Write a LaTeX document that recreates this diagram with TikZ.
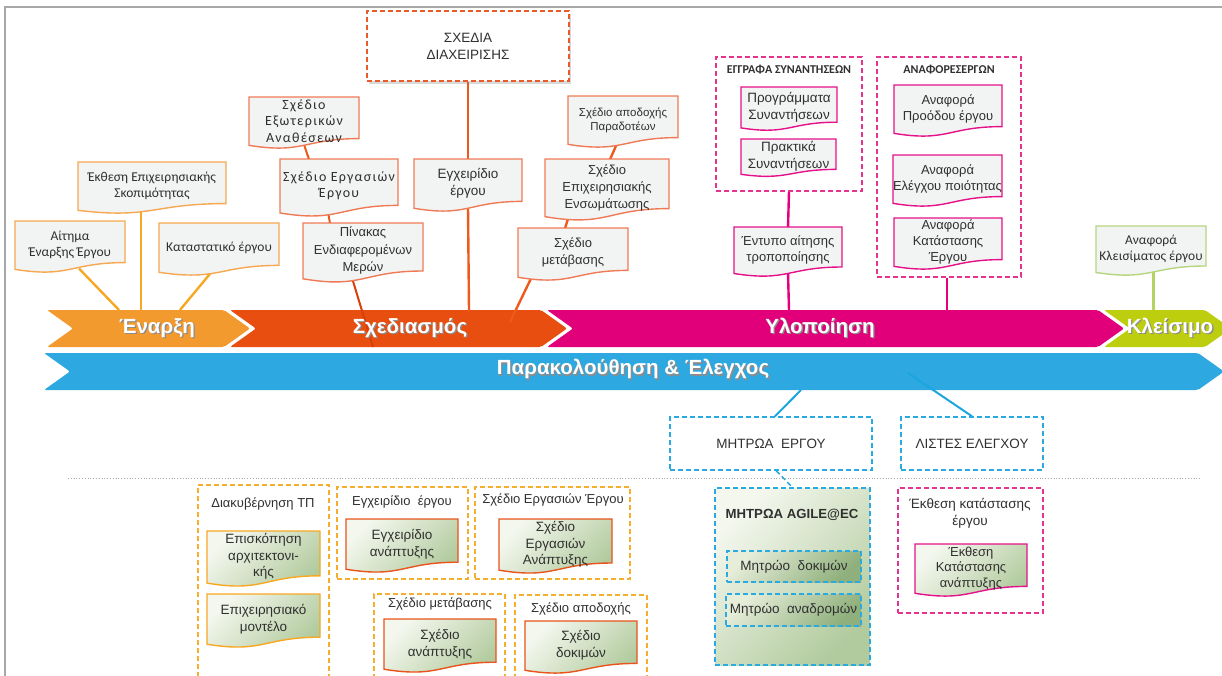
\documentclass[tikz,border=0pt]{standalone}
\usepackage{fontspec}
\setmainfont{Liberation Sans}
\newfontfamily\calfont{Carlito}
\newfontfamily\spfont[LetterSpace=9]{Carlito}
\usetikzlibrary{calc,shadows}
\pgfdeclarelayer{bands}
\pgfdeclarelayer{links}
\pgfsetlayers{bands,links,main}

\definecolor{cStart}{HTML}{F39A2E}
\definecolor{cPlan}{HTML}{E84E0F}
\definecolor{cExec}{HTML}{E2007A}
\definecolor{cClose}{HTML}{BDCE0E}
\definecolor{cMon}{HTML}{2EA8E0}
\definecolor{lnStart}{HTML}{F7A823}
\definecolor{lnPlan}{HTML}{EC5A1C}
\definecolor{lnPlanDk}{HTML}{D8400A}
\definecolor{lnExec}{HTML}{E5007D}
\definecolor{lnClose}{HTML}{B3D465}
\definecolor{lnMon}{HTML}{1BA6DF}
\definecolor{bdStart}{HTML}{F6A850}
\definecolor{bdPlan}{HTML}{EF7B56}
\definecolor{bdExec}{HTML}{E5118A}
\definecolor{bdClose}{HTML}{B5D67C}
\definecolor{bdDev}{HTML}{E8541B}
\definecolor{bdGov}{HTML}{F7A823}
\definecolor{docgray}{HTML}{F2F3F3}
\definecolor{gLight}{HTML}{F4F7EE}
\definecolor{gDark}{HTML}{B2CB9E}
\definecolor{gInL}{HTML}{E6EDD9}
\definecolor{gInD}{HTML}{8FB07C}
\definecolor{dashOr}{HTML}{F5AE2E}
\definecolor{dashPlan}{HTML}{E95B2B}
\definecolor{dashExec}{HTML}{E6338F}
\definecolor{dashMon}{HTML}{29ABE2}
\definecolor{framegray}{HTML}{A8A8A8}
\definecolor{ink}{HTML}{303030}

% phase label with a soft drop shadow
\newcommand\shtext[1]{\leavevmode\rlap{\kern1.3pt\raisebox{-1.6pt}{\color{black!45}#1}}#1}

% document symbol: name, x1, y1, x2, y2, outline style, text style, text
\newcommand\docnode[8]{%
  \path[docpath,#6] (#2,#3) -- (#4,#3) -- (#4,{#3+0.80*(#5-#3)})
    .. controls ({(#2+#4)/2},{#3+0.80*(#5-#3)}) and ({(#2+#4)/2},{#3+1.10*(#5-#3)})
    .. (#2,{#3+0.93*(#5-#3)}) -- cycle;
  \node[doctext,#7,minimum width={#4-#2},minimum height={0.9*(#5-#3)}]
    (#1) at ({(#2+#4)/2},{#3+0.46*(#5-#3)}) {#8};}

% rectangular node given by its corners: name, x1, y1, x2, y2, style, text
\newcommand\boxnode[7]{%
  \node[#6,minimum width={#4-#2},minimum height={#5-#3}]
    (#1) at ({(#2+#4)/2},{(#3+#5)/2}) {#7};}

\begin{document}
\begin{tikzpicture}[x=1pt,y=-1pt,
  docpath/.style={line width=1.4pt},
  doctext/.style={inner sep=0pt,align=center,text=ink,font=\fontsize{13}{17}\selectfont},
  calib/.style={font=\calfont\fontsize{13.5}{16.5}\selectfont},
  spaced/.style={font=\spfont\fontsize{14}{16.5}\selectfont},
  small/.style={font=\fontsize{11.5}{14}\selectfont},
  topdoc/.style={fill=docgray},
  devdoc/.style={top color=gLight,bottom color=gDark,shading angle=45},
  cont/.style={draw,dash pattern=on 5pt off 3pt,line width=1.4pt,inner sep=0pt},
  title/.style={inner sep=0pt,align=center,text=ink,font=\fontsize{13}{16}\selectfont},
  capsbold/.style={inner sep=0pt,text=ink,font=\calfont\bfseries\fontsize{12}{14}\selectfont},
  link/.style={line width=2.4pt},
  phase/.style={inner sep=0pt,text=white,font=\bfseries\fontsize{20.5}{23}\selectfont},
  band/.style={rounded corners=2pt}]

\useasboundingbox (0,0) rectangle (1222,675);
\clip (0,0) rectangle (1222,675);

% page frame
\draw[framegray,line width=1.6pt] (5,680) -- (5,7) -- (1230,7);

% ---------- phase bands ----------
\begin{pgfonlayer}{bands}
\fill[band,cStart] (47,310) -- (224,310) -- (250,328.5) -- (224,347) -- (47,347) -- (73,328.5) -- cycle;
\fill[band,cPlan]  (230,310) -- (541,310) -- (567,328.5) -- (541,347) -- (230,347) -- (256,328.5) -- cycle;
\fill[band,cExec]  (547,310) -- (1098,310) -- (1124,328.5) -- (1098,347) -- (547,347) -- (573,328.5) -- cycle;
\fill[band,cClose] (1104,310) -- (1205,310) -- (1231,328.5) -- (1205,347) -- (1104,347) -- (1130,328.5) -- cycle;
\fill[band,cMon]   (44,353) -- (1198,353) -- (1224,371.5) -- (1198,390) -- (44,390) -- (70,371.5) -- cycle;
\end{pgfonlayer}

\node[phase] (phStart) at (157,328.5) {\shtext{Έναρξη}};
\node[phase] (phPlan)  at (410,328.5) {\shtext{Σχεδιασμός}};
\node[phase] (phExec)  at (820,328.5) {\shtext{Υλοποίηση}};
\node[phase] (phClose) at (1170,328.5) {\shtext{Κλείσιμο}};
\node[phase] (phMon)   at (633,370) {\shtext{Παρακολούθηση \& Έλεγχος}};

% ---------- initiation documents ----------
\docnode{aitima}{15}{221}{125}{273}{draw=bdStart,topdoc}{calib}{Αίτημα\\Έναρξης Έργου}
\docnode{ekthesi}{78}{162}{226}{214}{draw=bdStart,topdoc}{calib}{Έκθεση Επιχειρησιακής\\Σκοπιμότητας}
\docnode{katast}{159}{223}{279}{276}{draw=bdStart,topdoc}{calib}{Καταστατικό έργου}

% ---------- planning documents ----------
\boxnode{diax}{367}{11}{569}{81}{cont,draw=dashPlan,fill=white,drop shadow={opacity=0.3,shadow xshift=1.5pt,shadow yshift=-2.5pt},title,font=\fontsize{13.5}{17}\selectfont}{ΣΧΕΔΙΑ\\ΔΙΑΧΕΙΡΙΣΗΣ}
\docnode{exter}{249}{97}{359}{149}{draw=bdPlan,topdoc}{spaced}{Σχέδιο\\Εξωτερικών\\Αναθέσεων}
\docnode{ergas}{280}{159}{398}{217}{draw=bdPlan,topdoc}{spaced}{Σχέδιο Εργασιών\\Έργου}
\docnode{pinakas}{303}{223}{423}{283}{draw=bdPlan,topdoc}{font=\fontsize{13}{17.5}\selectfont}{Πίνακας\\Ενδιαφερομένων\\Μερών}
\docnode{egx}{414}{159}{522}{212}{draw=bdPlan,topdoc}{font=\fontsize{13.5}{17}\selectfont}{Εγχειρίδιο\\έργου}
\docnode{apod}{568}{96}{678}{148}{draw=bdPlan,topdoc}{small}{Σχέδιο αποδοχής\\Παραδοτέων}
\docnode{ensom}{545}{159}{669}{221}{draw=bdPlan,topdoc}{font=\fontsize{13}{17}\selectfont}{Σχέδιο\\Επιχειρησιακής\\Ενσωμάτωσης}
\docnode{metab}{518}{228}{628}{281}{draw=bdPlan,topdoc}{font=\fontsize{13}{17}\selectfont}{Σχέδιο\\μετάβασης}

% ---------- execution documents ----------
\boxnode{meet}{716}{57}{862}{191}{cont,draw=dashExec}{}
\node[capsbold] (meetT) at (789,70) {ΕΓΓΡΑΦΑ ΣΥΝΑΝΤΗΣΕΩΝ};
\docnode{progr}{741}{87}{837}{131}{draw=bdExec,topdoc}{font=\fontsize{13.5}{16.5}\selectfont}{Προγράμματα\\Συναντήσεων}
\docnode{prakt}{741}{139}{836}{177}{draw=bdExec,topdoc}{font=\fontsize{13.5}{16.5}\selectfont}{Πρακτικά\\Συναντήσεων}
\docnode{entypo}{734}{227}{842}{277}{draw=bdExec,topdoc}{font=\fontsize{13}{16.5}\selectfont}{Έντυπο αίτησης\\τροποποίησης}

\boxnode{reports}{877}{57}{1021}{277}{cont,draw=dashExec}{}
\node[capsbold] (reportsT) at (949,70) {ΑΝΑΦΟΡΕΣΕΡΓΩΝ};
\docnode{prood}{894}{85}{1002}{137}{draw=bdExec,topdoc}{font=\fontsize{13}{16.5}\selectfont}{Αναφορά\\Προόδου έργου}
\docnode{poiot}{893}{155}{1002}{207}{draw=bdExec,topdoc}{font=\fontsize{13}{16.5}\selectfont}{Αναφορά\\Ελέγχου ποιότητας}
\docnode{katastasi}{894}{218}{1002}{270}{draw=bdExec,topdoc}{font=\fontsize{13}{16}\selectfont}{Αναφορά\\Κατάστασης\\Έργου}

% ---------- closing document ----------
\docnode{kleis}{1096}{226}{1206}{276}{draw=bdClose,topdoc}{calib}{Αναφορά\\Κλεισίματος έργου}

% ---------- monitoring boxes ----------
\boxnode{mitroa}{670}{417}{872}{470}{cont,draw=dashMon,title,font=\fontsize{13.5}{16}\selectfont}{ΜΗΤΡΩΑ\ \ ΕΡΓΟΥ}
\boxnode{listes}{901}{417}{1043}{470}{cont,draw=dashMon,title,font=\fontsize{13.5}{16}\selectfont}{ΛΙΣΤΕΣ ΕΛΕΓΧΟΥ}

% divider
\draw[framegray,line width=0.8pt,dotted] (68,478) -- (1202,478);

% ---------- development documents ----------
\boxnode{gov}{198}{485}{329}{700}{cont,draw=dashOr}{}
\node[title] (govT) at (263,504) {Διακυβέρνηση ΤΠ};
\docnode{episk}{207}{531}{320}{587}{draw=bdGov,devdoc}{font=\fontsize{13.5}{16.5}\selectfont}{Επισκόπηση\\αρχιτεκτονι-\\κής}
\docnode{epix}{207}{594}{320}{648}{draw=bdGov,devdoc}{font=\fontsize{13.5}{17}\selectfont}{Επιχειρησιακό\\μοντέλο}

\boxnode{man}{337}{487}{468}{579}{cont,draw=dashOr}{}
\node[title] (manT) at (402,502) {Εγχειρίδιο\ \ έργου};
\docnode{manDev}{346}{519}{458}{573}{draw=bdDev,devdoc}{font=\fontsize{13.5}{17}\selectfont}{Εγχειρίδιο\\ανάπτυξης}

\boxnode{wp}{475}{487}{630}{579}{cont,draw=dashOr}{}
\node[title] (wpT) at (553,500) {Σχέδιο Εργασιών Έργου};
\docnode{wpDev}{499}{519}{612}{574}{draw=bdDev,devdoc}{font=\fontsize{13.5}{16.5}\selectfont}{Σχέδιο\\Εργασιών\\Ανάπτυξης}

\boxnode{tr}{374}{594}{505}{700}{cont,draw=dashOr}{}
\node[title] (trT) at (440,604) {Σχέδιο μετάβασης};
\docnode{trDev}{384}{619}{496}{673}{draw=bdDev,devdoc}{font=\fontsize{13.5}{17}\selectfont}{Σχέδιο\\ανάπτυξης}

\boxnode{acc}{515}{595}{647}{700}{cont,draw=dashOr}{}
\node[title] (accT) at (581,609) {Σχέδιο αποδοχής};
\docnode{accDev}{525}{621}{637}{674}{draw=bdDev,devdoc}{font=\fontsize{13.5}{17}\selectfont}{Σχέδιο\\δοκιμών}

\boxnode{agile}{715}{488}{870}{665}{cont,draw=dashMon,top color=gLight,bottom color=gDark,shading angle=45}{}
\node[inner sep=0pt,text=ink,font=\bfseries\fontsize{13.2}{15}\selectfont] (agileT) at (792,515) {ΜΗΤΡΩΑ AGILE@EC};
\boxnode{tests}{727}{551}{861}{582}{cont,draw=dashMon,top color=gInL,bottom color=gInD,shading angle=45,title,font=\fontsize{13.5}{15}\selectfont}{Μητρώο\ \ δοκιμών}
\boxnode{retro}{726}{594}{861}{626}{cont,draw=dashMon,top color=gInL,bottom color=gInD,shading angle=45,title,font=\fontsize{13.5}{15}\selectfont}{Μητρώο\ \ αναδρομών}

\boxnode{status}{898}{488}{1043}{613}{cont,draw=dashExec}{}
\node[title,font=\fontsize{13.5}{17}\selectfont] (statusT) at (970,513) {Έκθεση κατάστασης\\έργου};
\docnode{statDev}{915}{544}{1027}{597}{draw=bdExec,devdoc}{font=\fontsize{13}{15.5}\selectfont}{Έκθεση\\Κατάστασης\\ανάπτυξης}

% ---------- band attachment points ----------
\coordinate (eA) at (119,310);
\coordinate (eB) at (141,310);
\coordinate (eC) at (180,310);
\coordinate (pA) at (373,347);
\coordinate (pB) at (469,311);
\coordinate (pC) at (510,322);
\coordinate (xA) at (789,310);
\coordinate (xB) at (947,310);
\coordinate (cA) at (1153,310);
\coordinate (mA) at (801,390);
\coordinate (mB) at (908,373);

% ---------- connectors ----------
\begin{pgfonlayer}{links}
\draw[link,lnStart] ($(aitima.south)+(9,0)$) -- (eA);
\draw[link,lnStart] ($(ekthesi.south)+(-11,0)$) -- (eB);
\draw[link,lnStart] ($(katast.south)+(-7,0)$) -- (eC);

\draw[link,lnPlan,line width=2pt] (exter.south) -- ($(ergas.north)+(-30,0)$);
\draw[link,lnPlan,line width=2pt] ($(ergas.south)+(-11,0)$) -- ($(pinakas.north)+(-33,0)$);
\draw[link,lnPlanDk,line width=2pt] ($(pinakas.south)+(-11,0)$) -- (pA);
\draw[link,lnPlan] (diax.south) -- (egx.north);
\draw[link,lnPlan] (egx.south) -- (pB);
\draw[link,lnPlan] ($(apod.south)+(-6,0)$) -- ($(ensom.north)+(3,0)$);
\draw[link,lnPlan] ($(ensom.south)+(-38,0)$) -- ($(metab.north)+(-8,0)$);
\draw[link,lnPlan] ($(metab.south)+(-41,0)$) -- (pC);

\draw[link,lnExec] (meet.south) -- (entypo.north);
\draw[link,lnExec] (entypo.south) -- (xA);
\draw[link,lnExec] ($(reports.south)+(-2,0)$) -- (xB);

\draw[link,lnClose,line width=3pt] ($(kleis.south)+(2,0)$) -- (cA);

\draw[lnMon,line width=2pt] (mA) -- ($(mitroa.north)+(4,0)$);
\draw[lnMon,line width=2pt] (mB) -- (listes.north);
\draw[lnMon,line width=1.4pt,dash pattern=on 5pt off 3pt] ($(mitroa.south)+(5,0)$) -- (agile.north);
\end{pgfonlayer}
\end{tikzpicture}
\end{document}
